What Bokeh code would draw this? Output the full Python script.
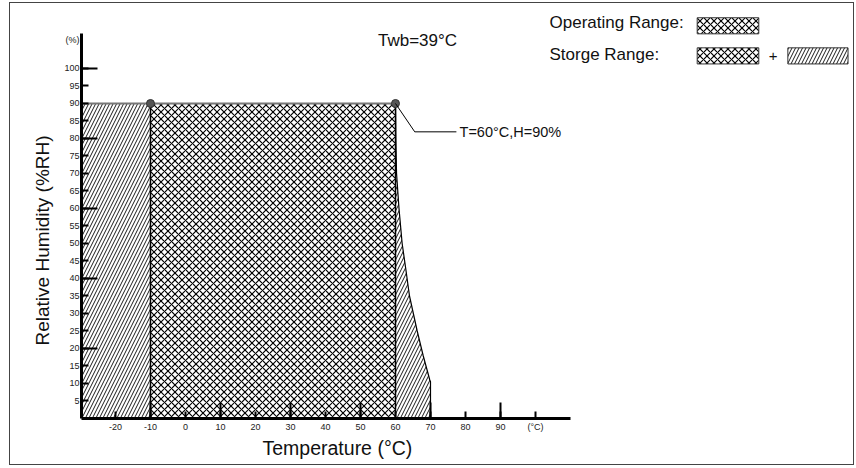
from bokeh.plotting import figure
from bokeh.models import FixedTicker, Label, Title
from bokeh.embed import file_html
from bokeh.resources import INLINE

FONT = "Liberation Sans"

# ---- data ----
x_ticks = [-20, -10, 0, 10, 20, 30, 40, 50, 60, 70, 80, 90, 100]
x_long_ticks = [-10, 10, 30, 50, 70, 90]
x_tick_labels = {-20: "-20", -10: "-10", 100: "(°C)"}
y_ticks = [5, 10, 15, 20, 25, 30, 35, 40, 45, 50, 55, 60, 65, 70, 75, 80, 85, 90, 95, 100]
y_long_ticks = [20, 40, 60, 80, 100]
y_unit_tick = 108
y_tick_labels = {108: "(%)"}

op_T_min, op_T_max, H_max = -10, 60, 90
corner_T = [-10, 60]
corner_H = [90, 90]

# right storage boundary (temperature limit curve)
curve_H = [90, 80, 70, 60, 50, 43, 35, 25, 18, 11, 10.5]
curve_T = [60, 60.1, 60.3, 61.0, 61.9, 62.9, 64.0, 66.2, 67.9, 69.8, 70]

X0, X1 = -29.714, 191.43
Y1 = 117.14
PX = 3.5  # pixels per unit on both axes

p = figure(width=845, height=463, x_range=(X0, X1), y_range=(0, Y1),
           output_backend="svg", toolbar_location=None,
           min_border_left=71, min_border_right=0, min_border_top=5, min_border_bottom=48)
p.styles = {"position": "absolute", "left": "9px", "top": "2px", "border": "1px solid #444444"}
p.grid.visible = False
p.outline_line_color = None
p.background_fill_color = "white"
p.border_fill_color = "white"

CROSS = dict(hatch_pattern="diagonal_cross", hatch_scale=7, hatch_weight=1.2, hatch_color="black")
DIAG = dict(hatch_pattern="right_diagonal_line", hatch_scale=7, hatch_weight=0.9, hatch_color="black")

# regions
p.patch([X0, X0, op_T_min, op_T_min], [0, H_max, H_max, 0], fill_color="white", line_color=None, **DIAG)
p.patch([op_T_min, op_T_min, op_T_max, op_T_max], [0, H_max, H_max, 0], fill_color="white",
        line_color=None, **CROSS)
rT = [curve_T[0]] + curve_T + [curve_T[-1]]
rH = [0] + curve_H + [0]
p.patch(rT, rH, fill_color="white", line_color=None, **DIAG)

# outlines
p.line([X0, op_T_max], [H_max, H_max], line_color="#777777", line_width=2)
p.line([op_T_min, op_T_min], [0, H_max], line_color="black", line_width=1.5)
p.line([op_T_max, op_T_max], [0, H_max], line_color="black", line_width=1.5)
p.line(curve_T + [curve_T[-1]], curve_H + [0], line_color="black", line_width=1.2)

p.scatter(corner_T, corner_H, size=8, fill_color="#555555", line_color="#333333")

# long y ticks
p.segment(x0=[X0] * len(y_long_ticks), y0=y_long_ticks,
          x1=[X0 + 16 / PX] * len(y_long_ticks), y1=y_long_ticks, line_color="black", line_width=2)

# leader for annotation
p.line([op_T_max, 65.5, 77.4], [H_max, 81.9, 81.9], line_color="black", line_width=1)
p.add_layout(Label(x=78.3, y=81.9, text="T=60°C,H=90%", text_baseline="middle",
                   text_font=FONT, text_font_size="14.5px", text_color="#111111"))
p.add_layout(Label(x=66.3, y=108, text="Twb=39°C", text_align="center", text_baseline="middle",
                   text_font=FONT, text_font_size="17px", text_color="#111111"))

# legend
p.add_layout(Label(x=104, y=113, text="Operating Range:", text_baseline="middle",
                   text_font=FONT, text_font_size="17px", text_color="#111111"))
p.add_layout(Label(x=104, y=104, text="Storge Range:", text_baseline="middle",
                   text_font=FONT, text_font_size="17px", text_color="#111111"))
p.add_layout(Label(x=167.9, y=103.7, text="+", text_align="center", text_baseline="middle",
                   text_font=FONT, text_font_size="15px", text_color="#111111"))
p.quad(left=[146.2, 146.2], right=[163.8, 163.8], bottom=[109.9, 101.3], top=[114.5, 105.9],
       fill_color="white", line_color="#333333", line_width=1, **CROSS)
p.quad(left=[172.1], right=[189.3], bottom=[101.3], top=[105.9],
       fill_color="white", line_color="#333333", line_width=1, **DIAG)

# axes
xa = p.xaxis[0]
xa.ticker = FixedTicker(ticks=x_ticks, minor_ticks=x_long_ticks)
xa.major_label_overrides = x_tick_labels
xa.bounds = (X0, 110)
xa.major_tick_in = 7
xa.minor_tick_in = 16
ya = p.yaxis[0]
ya.ticker = FixedTicker(ticks=y_ticks + [y_unit_tick], minor_ticks=y_ticks)
ya.major_label_overrides = y_tick_labels
ya.bounds = (0, 110)
ya.major_tick_in = 0
ya.minor_tick_in = 7
for ax in (xa, ya):
    ax.axis_line_width = 3
    ax.axis_line_color = "black"
    ax.major_tick_out = 0
    ax.minor_tick_out = 0
    ax.major_tick_line_width = 2
    ax.minor_tick_line_width = 2
    ax.major_tick_line_color = "black"
    ax.minor_tick_line_color = "black"
    ax.major_label_text_font = FONT
    ax.major_label_text_font_size = "9px"
    ax.major_label_text_color = "#222222"
    ax.major_label_standoff = 3
ya.major_label_standoff = 2

# axis titles
p.add_layout(Title(text="Temperature (°C)", align="left", offset=181, standoff=0,
                   text_font=FONT, text_font_size="19.5px", text_font_style="normal",
                   text_color="#111111"), "below")
p.add_layout(Title(text="Relative Humidity (%RH)", align="left", offset=73, standoff=18,
                   text_font=FONT, text_font_size="19px", text_font_style="normal",
                   text_color="#111111"), "left")

open("out.html", "w").write(file_html(p, INLINE))
